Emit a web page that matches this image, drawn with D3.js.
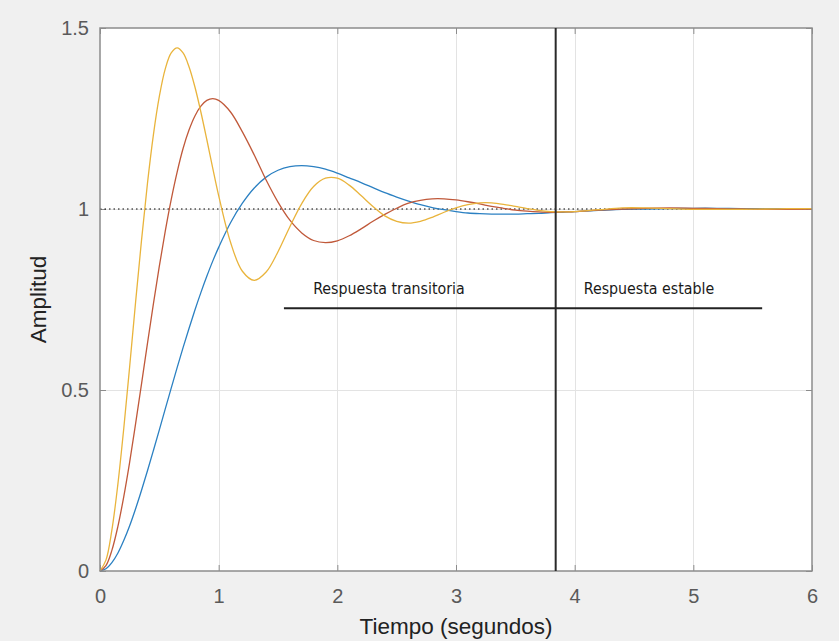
<!DOCTYPE html>
<html>
<head>
<meta charset="utf-8">
<script src="https://cdn.jsdelivr.net/npm/d3@7"></script>
<style>
  html, body { margin: 0; padding: 0; background: #f0f0f0; }
  svg { display: block; }
</style>
</head>
<body>
<svg id="chart" width="839" height="641"></svg>
<script>
// ---- data ----
const time = [0,0.05,0.1,0.15,0.2,0.25,0.3,0.35,0.4,0.45,0.5,0.55,0.6,0.65,0.7,0.75,0.8,0.85,0.9,0.95,1.0,
  1.1,1.2,1.3,1.4,1.5,1.6,1.7,1.8,1.9,2.0,
  2.1,2.2,2.3,2.4,2.5,2.6,2.7,2.8,2.9,3.0,3.1,3.2,3.3,3.4,3.5,3.6,3.7,3.8,3.9,4.0,
  4.2,4.4,4.6,4.8,5.0,5.2,5.4,5.6,5.8,6.0];
const blueSeries = [0,0.006,0.023,0.049,0.084,0.125,0.172,0.223,0.277,0.333,0.390,0.448,0.505,0.562,0.617,0.670,0.721,0.769,0.814,0.856,0.894,
  0.962,1.016,1.058,1.088,1.107,1.117,1.120,1.117,1.110,1.099,
  1.086,1.073,1.059,1.045,1.033,1.022,1.012,1.004,0.998,0.993,0.989,0.987,0.986,0.986,0.986,0.987,0.988,0.990,0.991,0.993,
  0.996,0.999,1.000,1.001,1.002,1.002,1.001,1.001,1.001,1.000];
const redSeries = [0,0.015,0.057,0.122,0.205,0.301,0.407,0.517,0.629,0.738,0.842,0.939,1.026,1.102,1.167,1.218,1.257,1.284,1.300,1.305,1.300,
  1.268,1.213,1.149,1.080,1.019,0.969,0.934,0.913,0.907,0.912,
  0.926,0.945,0.966,0.985,1.002,1.016,1.024,1.028,1.028,1.025,1.020,1.014,1.007,1.002,0.997,0.994,0.992,0.991,0.992,0.993,
  0.997,1.000,1.002,1.003,1.002,1.001,1.000,0.999,0.999,1.000];
const yellowSeries = [0,0.030,0.113,0.238,0.393,0.565,0.743,0.914,1.071,1.205,1.311,1.387,1.431,1.445,1.431,1.393,1.337,1.268,1.192,1.113,1.037,
  0.908,0.828,0.803,0.826,0.882,0.951,1.015,1.062,1.085,1.085,
  1.066,1.037,1.007,0.981,0.966,0.961,0.966,0.977,0.991,1.003,1.012,1.017,1.017,1.013,1.007,1.001,0.996,0.993,0.992,0.993,
  0.998,1.003,1.003,1.001,0.999,0.999,0.999,1.000,1.001,1.001];
const seriesColors = ["#2b80c2","#c0593a","#e9b43c"];
const xTicks = [0,1,2,3,4,5,6];
const yTicks = [0,0.5,1,1.5];
const yTickLabels = ["0","0.5","1","1.5"];
const steadyValue = 1;
const boundaryTime = 3.84;
const annotLevel = 0.726;
const annotRange = [1.55, 5.58];
const annotTexts = ["Respuesta transitoria","Respuesta estable"];
const annotTextX = [2.435, 4.626];
const annotTextY = 0.765;
const xTitle = "Tiempo (segundos)";
const yTitle = "Amplitud";

// ---- layout ----
const W = 839, H = 641;
const m = {top: 28, right: 27, bottom: 70, left: 100};
const svg = d3.select("#chart");
svg.append("rect").attr("width", W).attr("height", H).attr("fill", "#f0f0f0");

const x = d3.scaleLinear().domain([0, 6]).range([m.left, W - m.right]);
const y = d3.scaleLinear().domain([0, 1.5]).range([H - m.bottom, m.top]);

// plot area
svg.append("rect")
  .attr("x", x(0)).attr("y", y(1.5))
  .attr("width", x(6) - x(0)).attr("height", y(0) - y(1.5))
  .attr("fill", "#ffffff");

// grid
const grid = svg.append("g").attr("stroke", "#e3e3e3").attr("stroke-width", 1);
grid.selectAll("line.vx").data(xTicks.slice(1, -1)).join("line")
  .attr("x1", d => Math.round(x(d)) + 0.5).attr("x2", d => Math.round(x(d)) + 0.5)
  .attr("y1", y(1.5)).attr("y2", y(0));
grid.selectAll("line.hy").data(yTicks.slice(1, -1)).join("line")
  .attr("y1", d => Math.round(y(d)) + 0.5).attr("y2", d => Math.round(y(d)) + 0.5)
  .attr("x1", x(0)).attr("x2", x(6));

// axes with inward ticks
const axisColor = "#8c8c8c";
const tickFont = "'Liberation Sans', Arial, sans-serif";
function styleAxis(g) {
  g.select(".domain").remove();
  g.selectAll(".tick line").attr("stroke", axisColor);
  g.selectAll(".tick text").attr("fill", "#5a5a5a").attr("font-size", 20).attr("font-family", tickFont);
}
svg.append("g").attr("transform", `translate(0,${y(0)})`)
  .call(d3.axisBottom(x).tickValues(xTicks).tickFormat(d3.format("d")).tickSizeInner(-6).tickPadding(18))
  .call(styleAxis);
svg.append("g").attr("transform", `translate(0,${y(1.5)})`)
  .call(d3.axisTop(x).tickValues(xTicks).tickFormat("").tickSizeInner(-6))
  .call(styleAxis);
svg.append("g").attr("transform", `translate(${x(0)},0)`)
  .call(d3.axisLeft(y).tickValues(yTicks).tickFormat((d, i) => yTickLabels[i]).tickSizeInner(-6).tickPadding(11))
  .call(styleAxis);
svg.append("g").attr("transform", `translate(${x(6)},0)`)
  .call(d3.axisRight(y).tickValues(yTicks).tickFormat("").tickSizeInner(-6))
  .call(styleAxis);

// steady-state dotted line
svg.append("line")
  .attr("x1", x(0)).attr("x2", x(6))
  .attr("y1", y(steadyValue)).attr("y2", y(steadyValue))
  .attr("stroke", "#000").attr("stroke-width", 1.2).attr("stroke-dasharray", "1.5,3");

// curves
const line = d3.line().x((d, i) => x(time[i])).y(d => y(d)).curve(d3.curveCatmullRom.alpha(0.5));
const allSeries = [blueSeries, redSeries, yellowSeries];
svg.append("g").selectAll("path").data(allSeries).join("path")
  .attr("d", d => line(d))
  .attr("fill", "none")
  .attr("stroke", (d, i) => seriesColors[i])
  .attr("stroke-width", 1.3);

// box
svg.append("rect")
  .attr("x", x(0)).attr("y", y(1.5))
  .attr("width", x(6) - x(0)).attr("height", y(0) - y(1.5))
  .attr("fill", "none").attr("stroke", axisColor).attr("stroke-width", 1.5);

// annotation lines
svg.append("line")
  .attr("x1", x(boundaryTime)).attr("x2", x(boundaryTime))
  .attr("y1", y(1.5)).attr("y2", y(0))
  .attr("stroke", "#2a2a2a").attr("stroke-width", 2);
svg.append("line")
  .attr("x1", x(annotRange[0])).attr("x2", x(annotRange[1]))
  .attr("y1", y(annotLevel)).attr("y2", y(annotLevel))
  .attr("stroke", "#222").attr("stroke-width", 2);
svg.selectAll("text.annot").data(annotTexts).join("text")
  .attr("class", "annot")
  .attr("x", (d, i) => x(annotTextX[i]))
  .attr("y", y(annotTextY))
  .attr("text-anchor", "middle")
  .attr("font-family", "'DejaVu Sans Condensed', 'DejaVu Sans', sans-serif")
  .attr("font-size", 15.8)
  .attr("fill", "#1a1a1a")
  .text(d => d);

// axis titles
svg.append("text")
  .attr("x", (x(0) + x(6)) / 2).attr("y", 634)
  .attr("text-anchor", "middle")
  .attr("font-family", tickFont).attr("font-size", 22.5).attr("fill", "#222")
  .text(xTitle);
svg.append("text")
  .attr("transform", `translate(46,${(y(0) + y(1.5)) / 2}) rotate(-90)`)
  .attr("text-anchor", "middle")
  .attr("font-family", tickFont).attr("font-size", 22.5).attr("fill", "#222")
  .text(yTitle);
</script>
</body>
</html>
